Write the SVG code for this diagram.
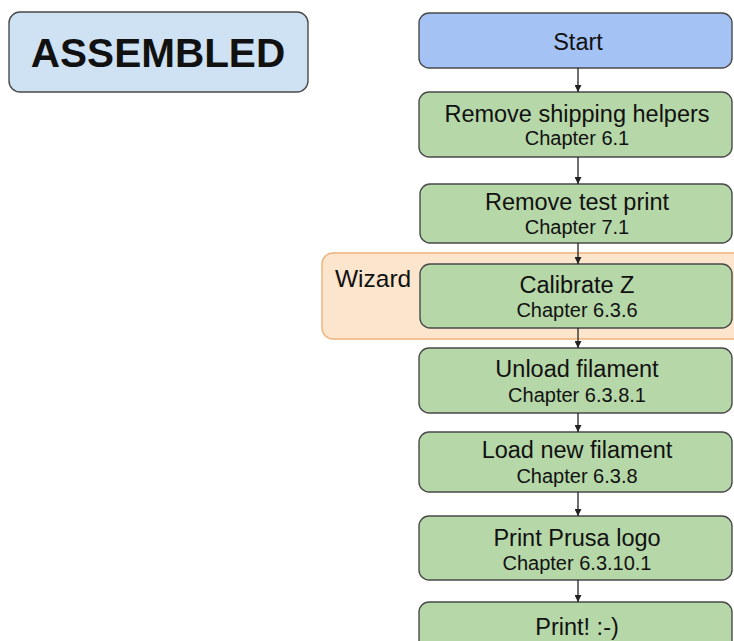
<svg xmlns="http://www.w3.org/2000/svg" width="734" height="641" viewBox="0 0 734 641">
<defs>
<style>
.box{stroke:#4a4a4a;stroke-width:1.4}
.green{fill:#b6d7a8}
.t{font-family:"Liberation Sans",Arial,sans-serif;fill:#111;text-anchor:middle}
.h{font-size:23.5px}
.c{font-size:20px}
.con{stroke:#222;stroke-width:1.3;fill:none}
</style>
<marker id="ah" viewBox="0 0 10 10" refX="10" refY="5" markerWidth="7" markerHeight="7" markerUnits="userSpaceOnUse" orient="auto">
<path d="M0,0 L10,5 L0,10 z" fill="#222"/>
</marker>
</defs>
<rect width="734" height="641" fill="#ffffff"/>
<g id="assembled">
<rect class="box" x="9" y="12" width="299" height="80" rx="11" fill="#cfe2f3"/>
<text class="t" x="158" y="67" font-size="40.5" font-weight="bold">ASSEMBLED</text>
</g>
<g id="wizard">
<rect x="322" y="253" width="430" height="86" rx="11" fill="#fce5cd" stroke="#f0b27a" stroke-width="1.4"/>
<text x="335" y="287" font-family="Liberation Sans,Arial,sans-serif" font-size="24.5" fill="#111">Wizard</text>
</g>
<g id="start">
<rect class="box" x="419" y="13" width="313" height="55" rx="10" fill="#a4c2f4"/>
<text class="t h" x="578" y="50">Start</text>
</g>
<g id="shipping">
<rect class="box green" x="419" y="92" width="313" height="65" rx="10"/>
<text class="t h" x="577" y="122">Remove shipping helpers</text>
<text class="t c" x="577" y="145">Chapter 6.1</text>
</g>
<g id="testprint">
<rect class="box green" x="420" y="184" width="312" height="59" rx="10"/>
<text class="t h" x="577" y="210">Remove test print</text>
<text class="t c" x="577" y="234">Chapter 7.1</text>
</g>
<g id="calibrate">
<rect class="box green" x="420" y="264" width="312" height="64" rx="10"/>
<text class="t h" x="577" y="293">Calibrate Z</text>
<text class="t c" x="577" y="317">Chapter 6.3.6</text>
</g>
<g id="unload">
<rect class="box green" x="419" y="348" width="313" height="65" rx="10"/>
<text class="t h" x="577" y="377">Unload filament</text>
<text class="t c" x="577" y="402">Chapter 6.3.8.1</text>
</g>
<g id="load">
<rect class="box green" x="419" y="432" width="313" height="60" rx="10"/>
<text class="t h" x="577" y="458">Load new filament</text>
<text class="t c" x="577" y="483">Chapter 6.3.8</text>
</g>
<g id="logo">
<rect class="box green" x="419" y="516" width="313" height="64" rx="10"/>
<text class="t h" x="577" y="546">Print Prusa logo</text>
<text class="t c" x="577" y="570">Chapter 6.3.10.1</text>
</g>
<g id="print">
<rect class="box green" x="419" y="602" width="313" height="60" rx="10"/>
<text class="t h" x="577" y="635">Print! :-)</text>
</g>
<g id="connectors">
<line class="con" x1="578" y1="68" x2="578" y2="92" marker-end="url(#ah)"/>
<line class="con" x1="578" y1="157" x2="578" y2="184" marker-end="url(#ah)"/>
<line class="con" x1="578" y1="243" x2="578" y2="264" marker-end="url(#ah)"/>
<line class="con" x1="578" y1="328" x2="578" y2="348" marker-end="url(#ah)"/>
<line class="con" x1="578" y1="413" x2="578" y2="432" marker-end="url(#ah)"/>
<line class="con" x1="578" y1="492" x2="578" y2="516" marker-end="url(#ah)"/>
<line class="con" x1="578" y1="580" x2="578" y2="602" marker-end="url(#ah)"/>
</g>
</svg>
